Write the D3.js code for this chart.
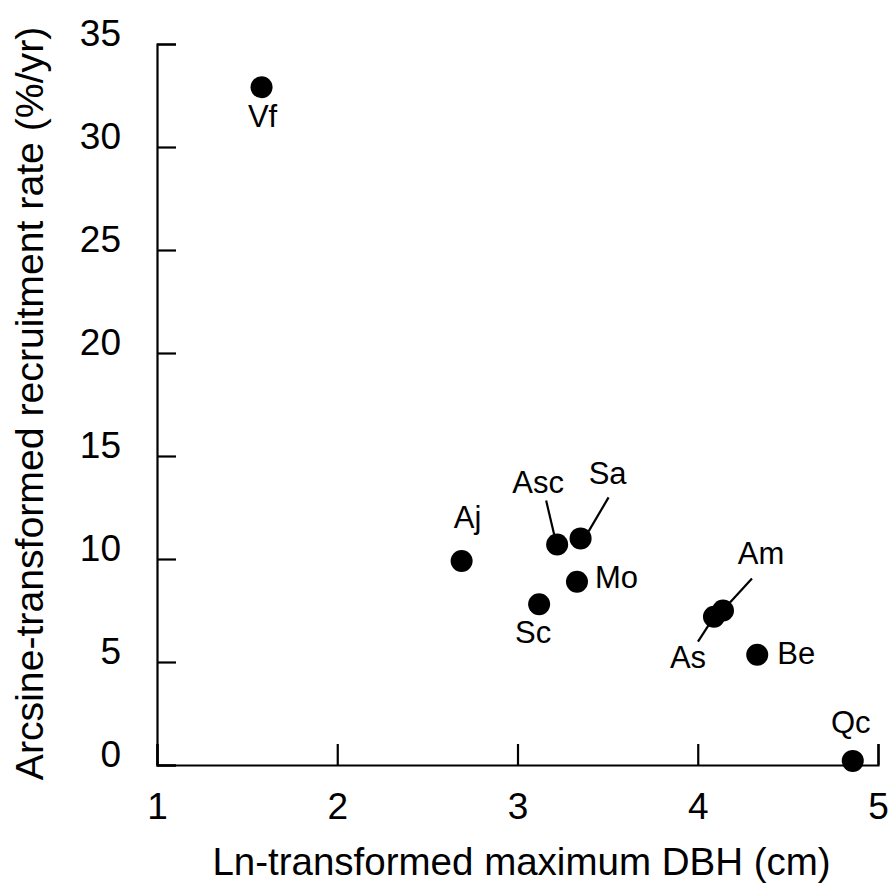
<!DOCTYPE html>
<html>
<head>
<meta charset="utf-8">
<script src="https://cdn.jsdelivr.net/npm/d3@7"></script>
<style>
  html, body { margin: 0; padding: 0; background: #fff; }
  svg { display: block; font-family: "Liberation Sans", Arial, Helvetica, sans-serif; }
</style>
</head>
<body>
<div id="chart"></div>
<script>
// species codes and values
const species = ['Vf', 'Aj', 'Asc', 'Sa', 'Mo', 'Sc', 'As', 'Am', 'Be', 'Qc'];
const lnDbh = [1.58, 2.69, 3.22, 3.35, 3.33, 3.12, 4.09, 4.14, 4.33, 4.86];
const recruitRate = [32.9, 9.9, 10.7, 11.0, 8.9, 7.8, 7.2, 7.5, 5.35, 0.2];

const xTicks = [1, 2, 3, 4, 5];
const yTicks = [0, 5, 10, 15, 20, 25, 30, 35];

// label placement (offset from the dot, px) and optional leader line
const labelLayout = {
  Vf:  { dx: 1,   dy: 40,  anchor: 'middle' },
  Aj:  { dx: 6,   dy: -33, anchor: 'middle' },
  Asc: { dx: -19, dy: -52, anchor: 'middle', lead: [[-11, -44], [-3, -10]] },
  Sa:  { dx: 27,  dy: -54, anchor: 'middle', lead: [[28, -41], [8, -7]] },
  Mo:  { dx: 18,  dy: 6,   anchor: 'start' },
  Sc:  { dx: -6,  dy: 39,  anchor: 'middle' },
  As:  { dx: -26, dy: 51,  anchor: 'middle', lead: [[-16, 25], [-5, 8]] },
  Am:  { dx: 38,  dy: -47, anchor: 'middle', lead: [[29, -32], [7, -8]] },
  Be:  { dx: 20,  dy: 9,   anchor: 'start' },
  Qc:  { dx: -2,  dy: -28, anchor: 'middle' }
};

const points = species.map((s, i) => ({ id: s, x: lnDbh[i], y: recruitRate[i] }));

const width = 889, height = 891;

const svg = d3.select('#chart').append('svg')
  .attr('width', width)
  .attr('height', height);

svg.append('rect').attr('width', width).attr('height', height).attr('fill', '#fff');

const x = d3.scaleLinear().domain([1, 5]).range([157, 878]);
const y = d3.scaleLinear().domain([0, 35]).range([765, 44]);

// --- AXES ---
const xAxis = svg.append('g')
  .attr('transform', `translate(0,${y(0)})`)
  .call(d3.axisBottom(x).tickValues(xTicks).tickSize(-21).tickPadding(0).tickFormat(d3.format('d')));

const yAxis = svg.append('g')
  .attr('transform', `translate(${x(1)},0)`)
  .call(d3.axisLeft(y).tickValues(yTicks).tickSize(-19).tickPadding(0).tickFormat(d3.format('d')));

[xAxis, yAxis].forEach(g => {
  g.select('.domain').attr('stroke', '#000').attr('stroke-width', 2.2);
  g.selectAll('.tick line').attr('stroke', '#000').attr('stroke-width', 2.2);
  g.selectAll('.tick text').attr('fill', '#000').attr('font-size', 37)
    .attr('font-family', '"Liberation Sans", Arial, sans-serif');
});

xAxis.selectAll('.tick text').attr('dy', null).attr('y', 54);
yAxis.selectAll('.tick text').attr('x', -36).attr('dy', '0.32em')
  .attr('transform', 'translate(0,-10)');

// --- AXIS TITLES ---
svg.append('text')
  .attr('x', (x(1) + x(5)) / 2 + 4)
  .attr('y', 875)
  .attr('text-anchor', 'middle')
  .attr('font-size', 38.5)
  .text('Ln-transformed maximum DBH (cm)');

svg.append('text')
  .attr('transform', `translate(43,${(y(0) + y(35)) / 2 - 1}) rotate(-90)`)
  .attr('text-anchor', 'middle')
  .attr('font-size', 39.2)
  .text('Arcsine-transformed recruitment rate (%/yr)');

// --- LEADER LINES ---
svg.append('g').selectAll('line')
  .data(points.filter(d => labelLayout[d.id].lead))
  .join('line')
  .attr('x1', d => x(d.x) + labelLayout[d.id].lead[0][0])
  .attr('y1', d => y(d.y) + labelLayout[d.id].lead[0][1])
  .attr('x2', d => x(d.x) + labelLayout[d.id].lead[1][0])
  .attr('y2', d => y(d.y) + labelLayout[d.id].lead[1][1])
  .attr('stroke', '#000')
  .attr('stroke-width', 2.2);

// --- POINTS ---
svg.append('g').selectAll('circle')
  .data(points)
  .join('circle')
  .attr('cx', d => x(d.x))
  .attr('cy', d => y(d.y))
  .attr('r', 11)
  .attr('fill', '#000');

// --- LABELS ---
svg.append('g').selectAll('text')
  .data(points)
  .join('text')
  .attr('x', d => x(d.x) + labelLayout[d.id].dx)
  .attr('y', d => y(d.y) + labelLayout[d.id].dy)
  .attr('text-anchor', d => labelLayout[d.id].anchor)
  .attr('font-size', 31)
  .text(d => d.id);
</script>
</body>
</html>
